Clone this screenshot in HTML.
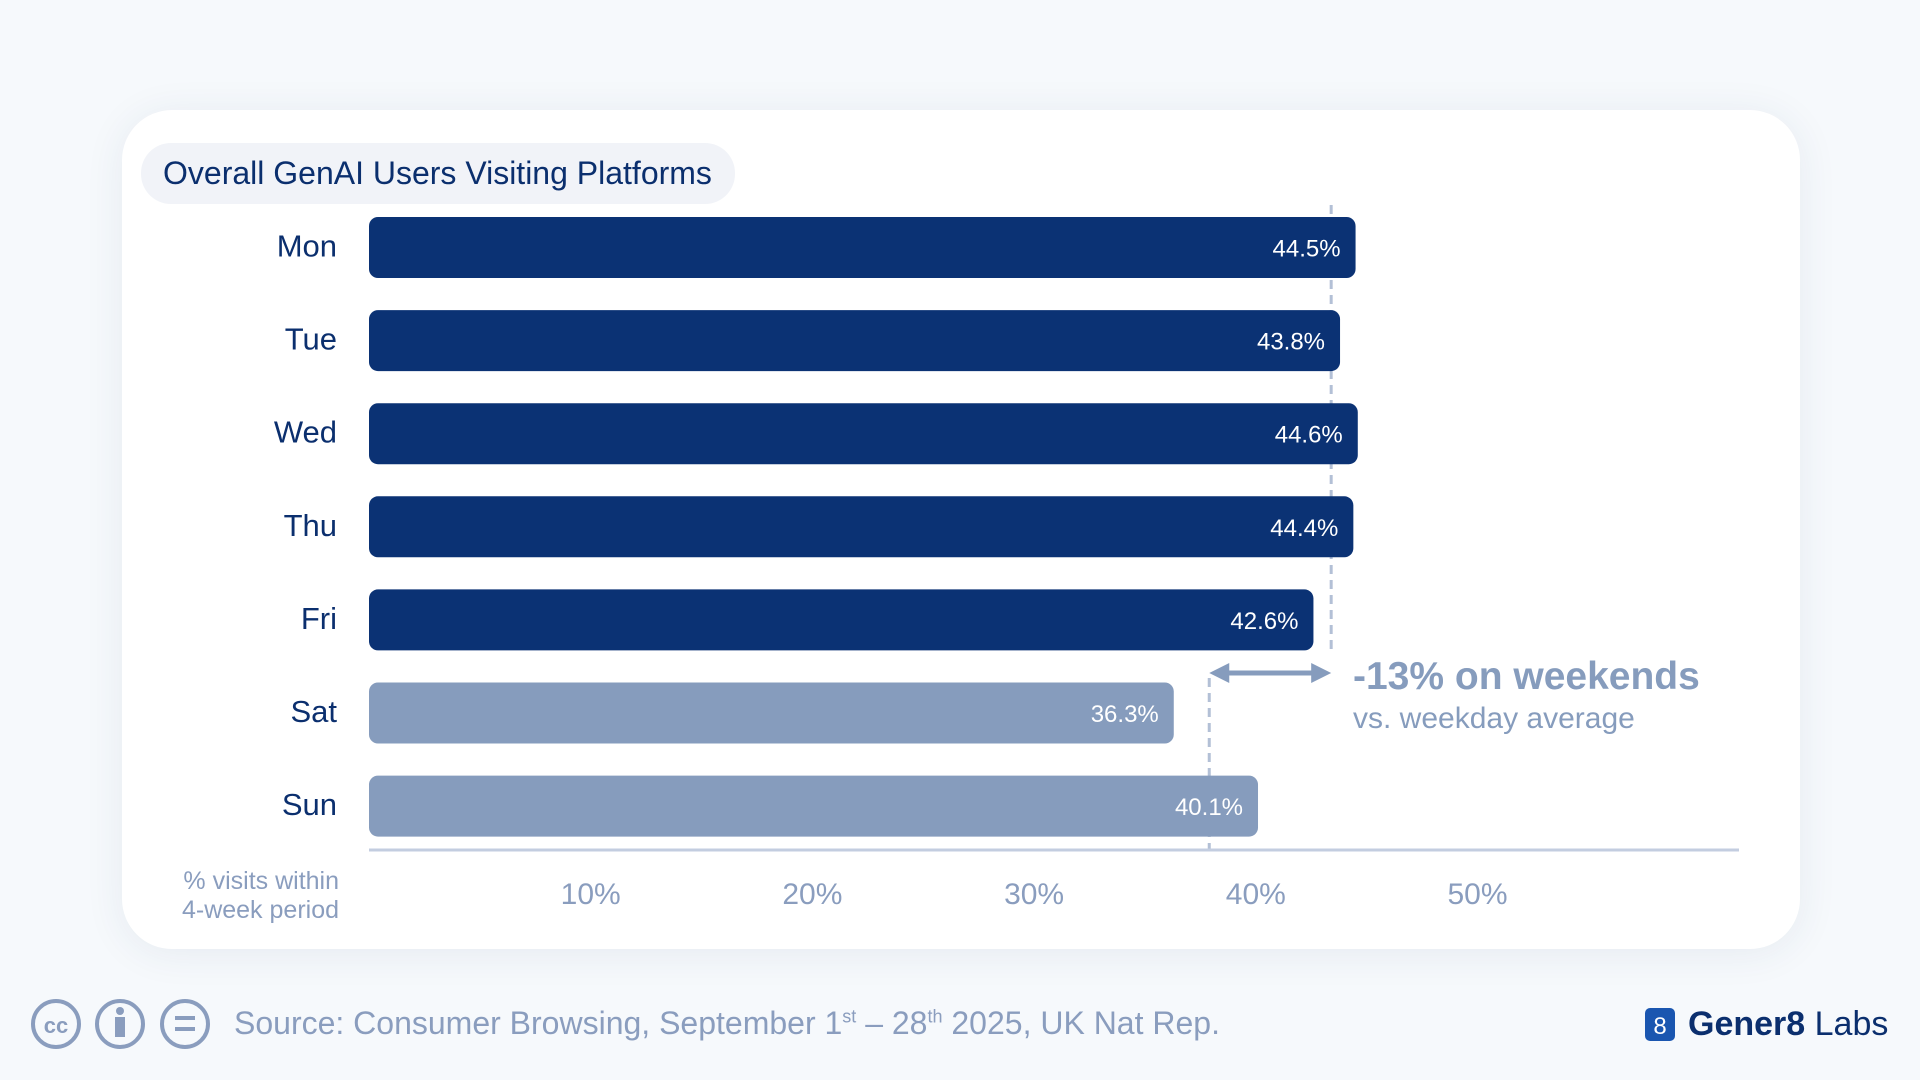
<!DOCTYPE html>
<html><head><meta charset="utf-8">
<style>
body{margin:0;width:1920px;height:1080px;background:#f6f9fc;font-family:"Liberation Sans",sans-serif;overflow:hidden;position:relative}
#card{position:absolute;left:122px;top:110px;width:1678px;height:839px;background:#fff;border-radius:50px;box-shadow:0 4px 40px rgba(40,60,100,0.08)}
#title{position:absolute;left:141px;top:143px;width:594px;height:61px;background:#f1f3f8;border-radius:30px;color:#0b2f6e;font-size:32px;line-height:61px;text-indent:22px}
svg{position:absolute;left:0;top:0}
.foot{position:absolute;color:#8a9dbe}
</style></head><body>
<div id="card"></div>
<div id="title">Overall GenAI Users Visiting Platforms</div>
<svg id="chart" width="1920" height="1080"></svg>
<svg width="1920" height="1080">
 <g fill="none" stroke="#8a9dbe" stroke-width="4">
  <circle cx="56" cy="1024" r="23"/><circle cx="120" cy="1024" r="23"/><circle cx="185" cy="1024" r="23"/>
 </g>
 <text x="56" y="1033" font-size="22" font-weight="bold" fill="#8a9dbe" text-anchor="middle" font-family="Liberation Sans">cc</text>
 <circle cx="120" cy="1011" r="4" fill="#8a9dbe"/><rect x="115" y="1017" width="10" height="20" fill="#8a9dbe"/>
 <rect x="175" y="1016" width="20" height="4" fill="#8a9dbe"/><rect x="175" y="1027" width="20" height="4" fill="#8a9dbe"/>
 <rect x="1645" y="1008" width="30" height="33" rx="5" fill="#1a56b0"/>
 <text x="1660" y="1034" font-size="24" fill="#fff" text-anchor="middle" font-family="Liberation Sans">8</text>
</svg>
<div class="foot" style="left:234px;top:1005px;font-size:32px">Source: Consumer Browsing, September 1<sup style="font-size:18px">st</sup> – 28<sup style="font-size:18px">th</sup> 2025, UK Nat Rep.</div>
<div class="foot" style="left:1688px;top:1005px;font-size:34px;color:#0b2f6e"><b>Gener8</b> Labs</div>
<script>
const days=["Mon","Tue","Wed","Thu","Fri","Sat","Sun"];
const values=[44.5,43.8,44.6,44.4,42.6,36.3,40.1];
const weekend=[false,false,false,false,false,true,true];
const ticks=[10,20,30,40,50];
const weekdayAvg=43.4;
const weekendAvg=37.9;
const NS="http://www.w3.org/2000/svg";
const svg=document.getElementById('chart');
const x0=369,pxPer=22.17,rowTop=217,rowStep=93.1,barH=61;
const xs=v=>x0+v*pxPer;
const ys=i=>rowTop+i*rowStep;
function el(t,a,txt){const e=document.createElementNS(NS,t);for(const k in a)e.setAttribute(k,a[k]);if(txt!==undefined)e.textContent=txt;svg.appendChild(e);return e;}
let l=el('line',{x1:xs(weekdayAvg),x2:xs(weekdayAvg),y1:205,y2:649,stroke:'#b3c0d6','stroke-width':3,'stroke-dasharray':'9 6'});


l=el('line',{x1:xs(weekendAvg),x2:xs(weekendAvg),y1:678,y2:850,stroke:'#b3c0d6','stroke-width':3,'stroke-dasharray':'9 6'});


values.forEach((v,i)=>{
 const y=ys(i);
 const r=el('rect',{x:x0,y:y,width:xs(v)-x0,height:barH,rx:9,fill:weekend[i]?'#869cbd':'#0b3274'});
 
 
 const t=el('text',{x:xs(v)-15,y:y+barH/2+9,'font-size':24,fill:'#fff','text-anchor':'end'},v.toFixed(1)+'%');
 
 
 const d=el('text',{x:337,y:y+barH/2+9,'font-size':31,fill:'#0b2f6e','text-anchor':'end'},days[i]);
 
 
});
const ax=el('line',{x1:x0,x2:1739,y1:850,y2:850,stroke:'#c3cde0','stroke-width':3});


ticks.forEach(t=>{
 const e=el('text',{x:xs(t),y:904,'font-size':30,fill:'#8a9dbe','text-anchor':'middle'},t+'%');
 
 
});
let n=el('text',{x:339,y:889,'font-size':25,fill:'#8a9dbe','text-anchor':'end'},'% visits within');


n=el('text',{x:339,y:918,'font-size':25,fill:'#8a9dbe','text-anchor':'end'},'4-week period');


const a1=xs(weekendAvg),a2=xs(weekdayAvg),ay=673;
const ar=el('path',{d:`M${a1+16} ${ay}L${a2-16} ${ay}`,stroke:'#869cbd','stroke-width':5,fill:'none'});


el('path',{d:`M${a1} ${ay}L${a1+20} ${ay-10}L${a1+20} ${ay+10}Z`,fill:'#869cbd'});
el('path',{d:`M${a2} ${ay}L${a2-20} ${ay-10}L${a2-20} ${ay+10}Z`,fill:'#869cbd'});
n=el('text',{x:1353,y:689,'font-size':39,'font-weight':'bold',fill:'#869cbd'},'-13% on weekends');


n=el('text',{x:1353,y:728,'font-size':30,fill:'#869cbd'},'vs. weekday average');


</script>
</body></html>
